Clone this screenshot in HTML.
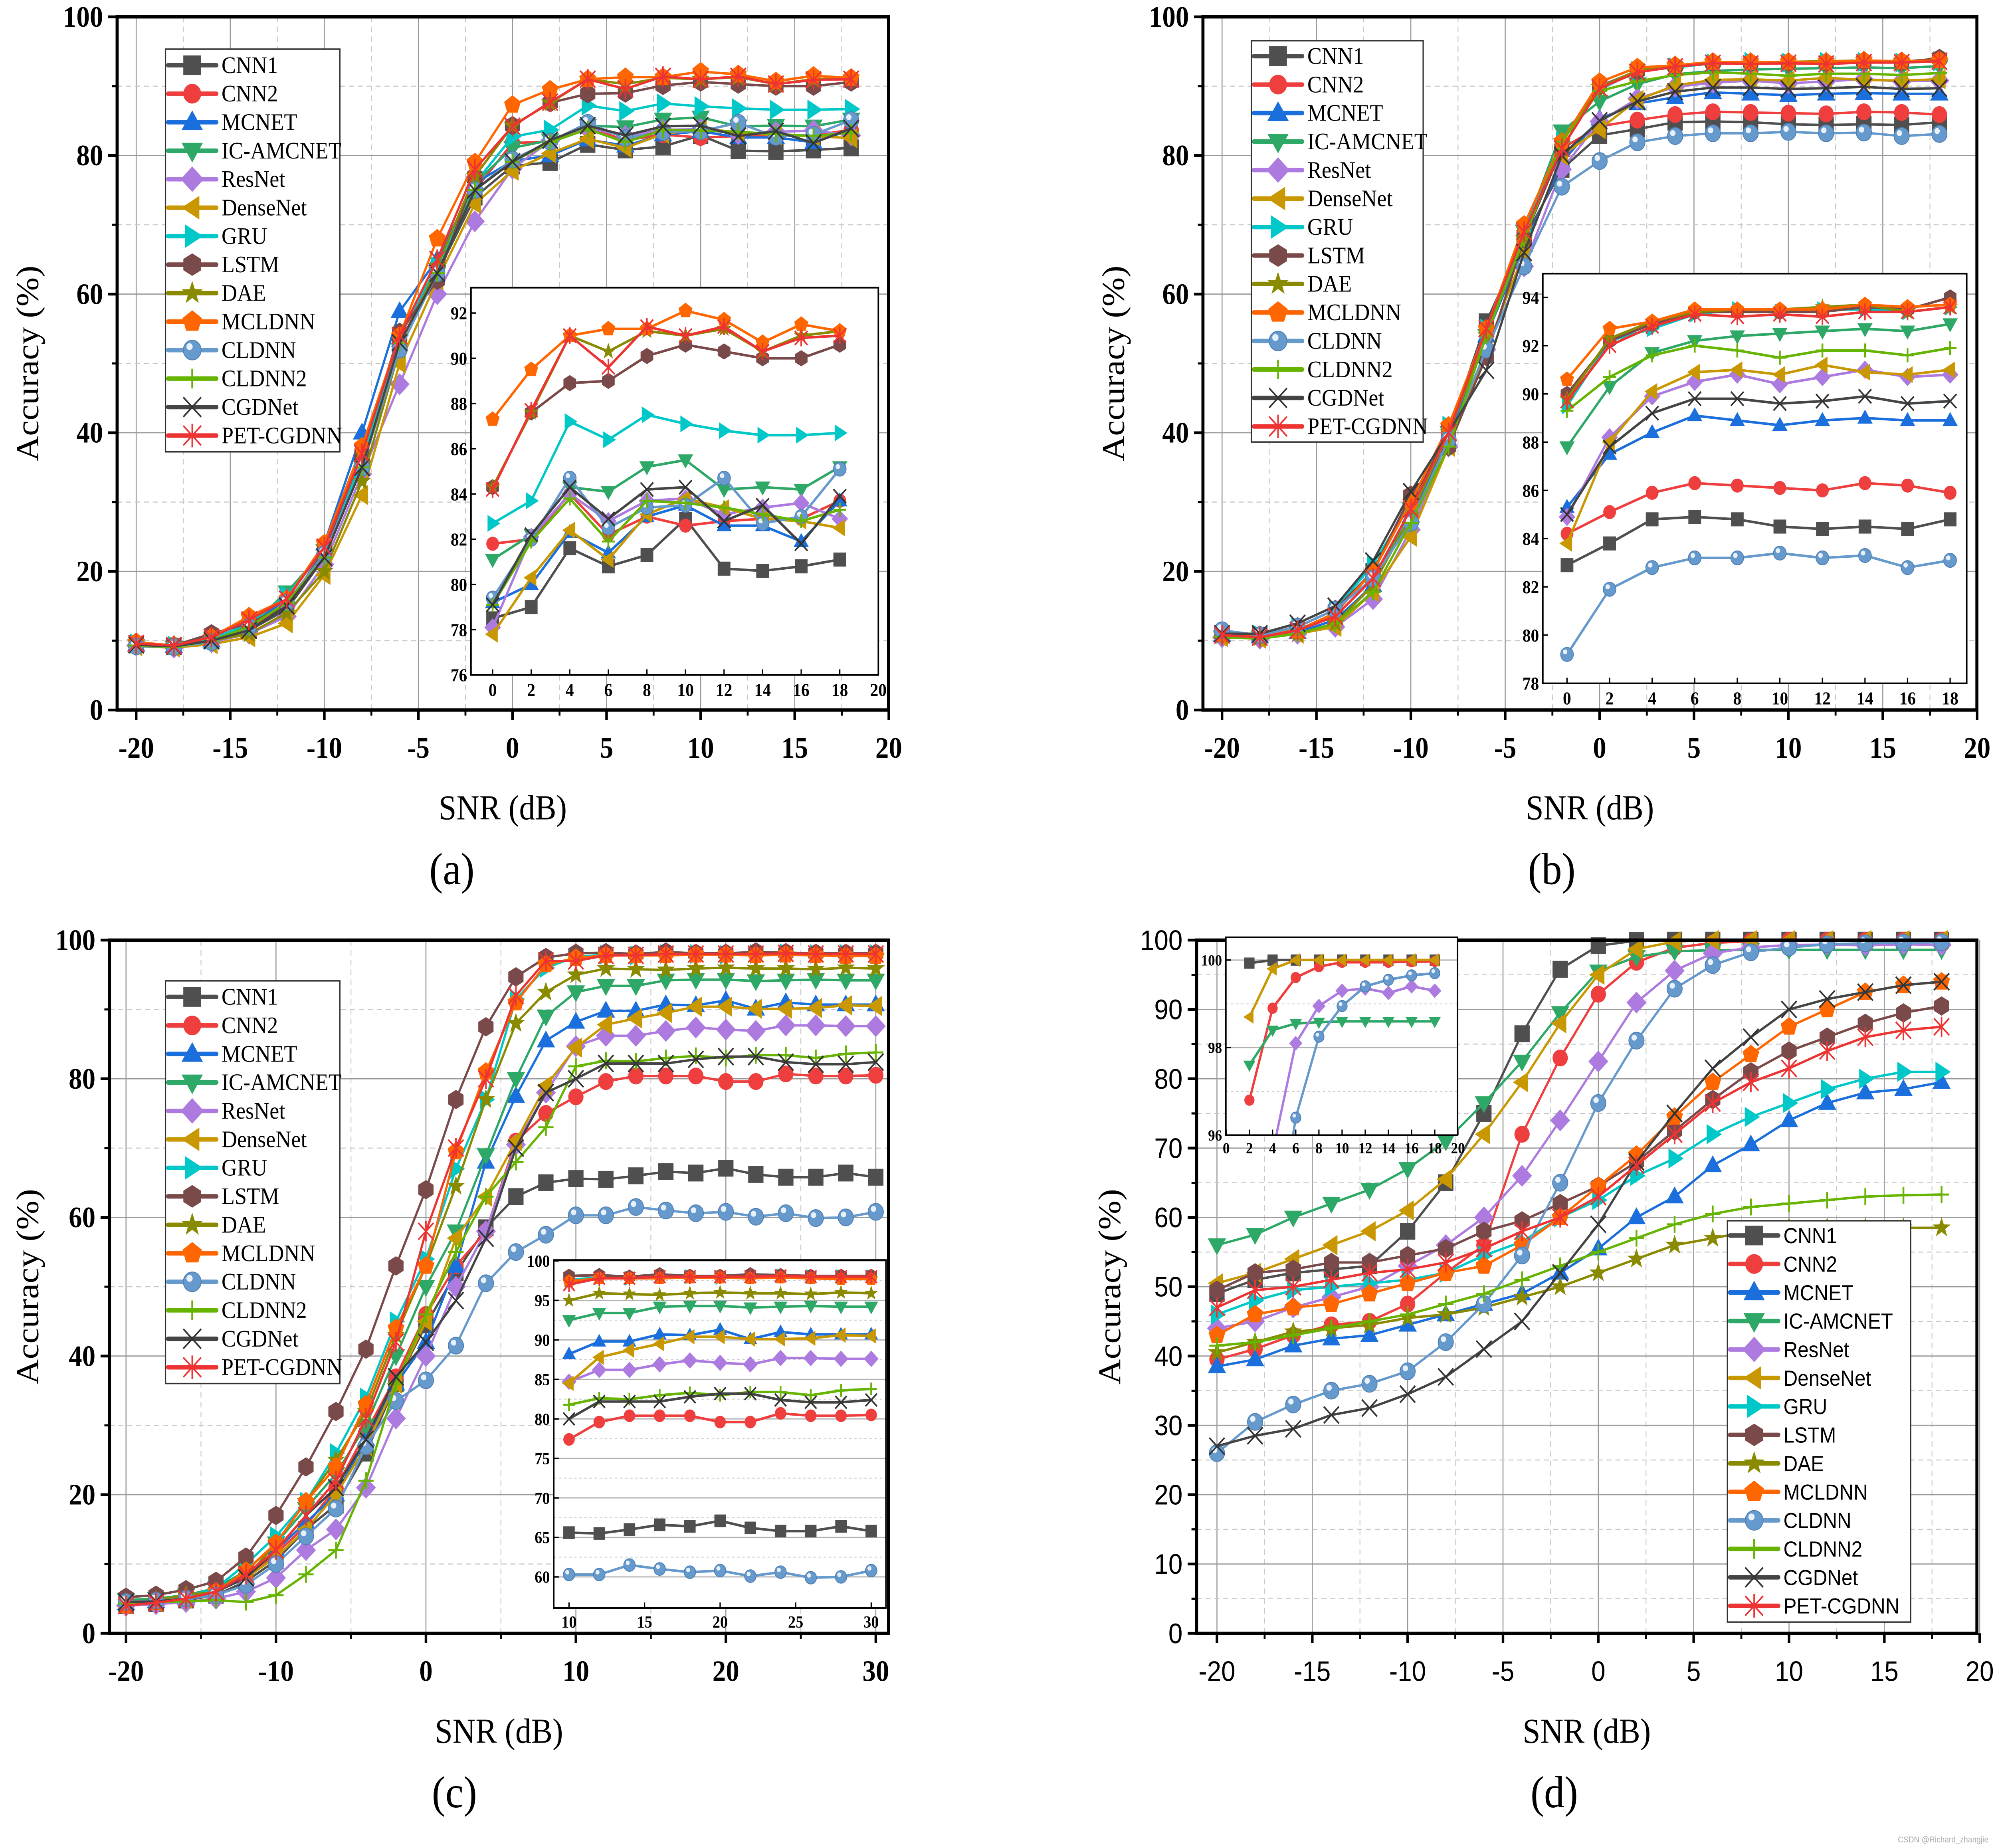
<!DOCTYPE html>
<html><head><meta charset="utf-8"><style>
html,body{margin:0;padding:0;background:#fff;width:100%;height:100%;overflow:hidden;}
svg{display:block;width:100vw;height:100vh;}
</style></head><body>
<svg id="fig" xmlns="http://www.w3.org/2000/svg" viewBox="0 0 1568 1317" preserveAspectRatio="none"></svg>
<script>
const seriesNames=['CNN1','CNN2','MCNET','IC-AMCNET','ResNet','DenseNet','GRU','LSTM','DAE','MCLDNN','CLDNN','CLDNN2','CGDNet','PET-CGDNN'];
const snrAB=[-20,-18,-16,-14,-12,-10,-8,-6,-4,-2,0,2,4,6,8,10,12,14,16,18];
const snrC=[-20,-18,-16,-14,-12,-10,-8,-6,-4,-2,0,2,4,6,8,10,12,14,16,18,20,22,24,26,28,30];
const snrD=[-20,-18,-16,-14,-12,-10,-8,-6,-4,-2,0,2,4,6,8,10,12,14,16,18];
const accA=[
[9.5,9.2,10.2,11.5,14.5,22,35,53,63,74,78.5,79.0,81.6,80.8,81.3,82.9,80.7,80.6,80.8,81.1],
[9.4,9.1,10.3,12,15,22.5,36,54,63,75,81.8,82.0,84.0,82.2,83.0,82.6,82.8,82.9,82.9,83.7],
[9.4,9.2,10,12.2,16,24,40,57.5,65,76,79.2,80.0,82.3,81.4,83.0,83.5,82.6,82.6,81.9,83.7],
[9.3,9.0,9.6,12,17,23,35,52,63,76,81.1,82.2,84.3,84.1,85.2,85.5,84.2,84.3,84.2,85.2],
[9.3,9.0,9.8,11,13.5,21,34,47,60,70.5,78.1,82.1,84.0,82.8,83.7,83.8,83.1,83.4,83.6,82.9],
[9.2,9.0,9.5,10.5,12.5,19.5,31,50,62,73,77.8,80.3,82.4,81.1,83.1,83.8,83.4,82.9,82.8,82.5],
[9.6,9.3,10.2,12.5,16.5,23,36,54,64,76,82.7,83.7,87.2,86.4,87.5,87.1,86.8,86.6,86.6,86.7],
[9.6,9.3,11,12.5,15,23,37,54.5,62,77,84.3,87.6,88.9,89.0,90.1,90.6,90.3,90.0,90.0,90.6],
[9.5,9.2,10,11,14,20,33,52,64,77,84.3,87.6,91.0,90.3,91.2,91.0,91.3,90.3,91.0,91.2],
[9.8,9.3,10.5,13.5,16,24,38,54,68,79,87.3,89.5,91.0,91.3,91.3,92.1,91.7,90.7,91.5,91.2],
[9.2,9.1,9.8,12,15.5,22.5,35,52,63,75,79.4,82.0,84.7,82.5,83.4,83.5,84.7,82.7,83.0,85.1],
[9.3,9.1,10,12,15.5,22,35,53,63,75,79.1,81.9,83.8,81.9,83.7,83.6,83.4,83.1,82.8,83.3],
[9.4,9.2,10,11.5,15,22,35,53,63,75,79.1,82.2,84.3,82.9,84.2,84.3,82.8,83.5,81.8,83.9],
[9.6,9.3,10.5,13,16,23.5,37,54,65,78,84.2,87.7,91.0,89.6,91.4,91.0,91.4,90.3,90.9,91.0]];
const accB=[
[11,10.8,11.5,14,20,30,40,56,68,78,82.9,83.8,84.8,84.9,84.8,84.5,84.4,84.5,84.4,84.8],
[11,10.7,11.5,13.5,19,29,40,55,69,81,84.2,85.1,85.9,86.3,86.2,86.1,86.0,86.3,86.2,85.9],
[10.8,10.6,11.2,13,18,28,39,54,67,79,85.3,87.5,88.4,89.1,88.9,88.7,88.9,89.0,88.9,88.9],
[10.5,10.5,11,12.5,18,29,40,54,69,83.5,87.8,90.3,91.7,92.2,92.4,92.5,92.6,92.7,92.6,92.9],
[10.5,10.3,11,12,16,26,38,52,64,78,84.9,88.2,89.9,90.5,90.8,90.4,90.7,91.0,90.7,90.8],
[10.5,10.3,11,12,17,25,38,52,66,80,83.8,88.0,90.1,90.9,91.0,90.8,91.2,90.9,90.8,91.0],
[11,10.8,12,14.5,21,30,41,55,69,82,89.5,92.2,92.7,93.3,93.5,93.4,93.5,93.5,93.4,93.6],
[11,10.8,12,14.5,20,31,38,51,68,81,90.0,92.2,92.9,93.4,93.4,93.4,93.4,93.6,93.5,94.0],
[10.8,10.5,11,12.5,18,28,40,54,68,82,89.8,92.3,93.0,93.4,93.5,93.5,93.6,93.7,93.4,93.6],
[11,10.8,11.5,14,20,30,41,55,70,82,90.6,92.7,93.0,93.5,93.5,93.5,93.5,93.7,93.6,93.7],
[11.5,10.8,12,14.5,19,27,39,52,64,75.5,79.2,81.9,82.8,83.2,83.2,83.4,83.2,83.3,82.8,83.1],
[10.5,10.3,11,12.5,17,27,38,54,68,82,89.3,90.7,91.6,92.0,91.8,91.5,91.8,91.8,91.6,91.9],
[11,11,12.5,15,21.5,31.5,40,49,66,80,85.0,87.8,89.2,89.8,89.8,89.6,89.7,89.9,89.6,89.7],
[10.8,10.5,11.5,13.5,19,29,40,55,69,81,89.7,92.0,92.8,93.3,93.2,93.3,93.2,93.4,93.4,93.6]];
const accC=[
[4,4.3,4.8,5.5,7.5,10.5,15,18.5,26,36,44.5,52,58.5,63,65,65.6,65.5,66.0,66.6,66.4,67.1,66.2,65.8,65.8,66.4,65.8],
[4.5,4.8,5.2,6,8,11.5,15.5,21,29,37,46,53,58,71,75,77.4,79.6,80.4,80.4,80.4,79.6,79.6,80.7,80.4,80.4,80.5],
[4.3,4.6,5,6,8,12,16,20,28,36,42,53,68,77.5,85.5,88.2,89.8,89.8,90.7,90.6,91.3,90.1,91.0,90.7,90.7,90.7],
[4.8,5,5.5,6.5,9,13,18,23,30,40,50,58,69,80,89,92.5,93.4,93.4,94.2,94.3,94.3,94.1,94.2,94.3,94.2,94.2],
[4,4.2,4.5,5,6,8,12,15,21,31,40,50,58,70.5,78,84.7,86.2,86.2,86.9,87.4,87.1,86.9,87.7,87.7,87.6,87.6],
[4.2,4.5,5,6,8,11,15,20,27,36,45,57,63,71,79,84.5,87.8,88.7,89.5,90.4,90.4,90.1,90.1,90.2,90.6,90.5],
[4.5,4.8,5.2,6.5,10,14,19,26,34,45,54,67,77,91.5,96,97.6,97.9,97.8,98.0,98.0,97.9,98.0,98.1,98.0,98.0,98.0],
[5.2,5.5,6.3,7.5,11,17,24,32,41,53,64,77,87.5,94.7,97.5,98.1,98.2,98.0,98.3,98.1,98.1,98.3,98.2,98.1,98.1,98.1],
[4.5,4.8,5.5,6,8,13,19,25,32,43,53,64.5,77,88,92.5,95.0,95.9,95.8,95.7,95.9,96.0,95.9,95.9,95.8,96.0,95.9],
[4,4.5,5,6,9,13,19,24,33,44,53,69.5,81,91,96.5,97.4,97.8,97.8,97.8,97.9,97.9,97.8,97.9,97.8,97.7,97.7],
[4.5,4.7,5,5.5,7,10,14,18,27,33.5,36.5,41.5,50.5,55,57.5,60.3,60.3,61.5,61.0,60.6,60.8,60.1,60.6,59.9,60.0,60.8],
[4.3,4.5,4.6,4.8,4.5,5.5,8.5,12,22,36,46,55,63,68,73,81.8,82.6,82.5,83.0,83.3,83.0,83.4,83.4,83.0,83.6,83.8],
[4.5,4.6,5,6,8,12,17,21,28,37,42,48,57,70,78,80.0,82.2,82.2,82.2,82.8,83.2,83.2,82.4,82.1,82.1,82.4],
[4,4.4,5,6,8.5,12,17,22,31,42,58,70,80,92,97,97.0,97.8,97.8,98.0,98.0,98.0,98.0,98.1,98.0,98.0,98.0]];
const accD=[
[49,51,52,52.5,53,58,65,75,86.5,95.8,99.2,99.93,100,100,100,100,100,100,100,100],
[39.5,41,43,44.5,45,47.5,52,56,72,83,92.2,96.8,98.9,99.6,99.85,99.95,99.95,99.95,99.96,99.97],
[38.5,39.5,41.5,42.5,43,44.5,46,47.5,49,52,55.5,60,63,67.5,70.5,74,76.5,78,78.5,79.5],
[56,57.5,60,62,64,67,71,76.5,82.5,89.5,95.5,97.6,98.4,98.55,98.58,98.6,98.6,98.6,98.6,98.6],
[44,45,47,48.5,50,53,56,60,66,74,82.5,91,95.6,98.1,98.95,99.3,99.35,99.25,99.4,99.3],
[50.5,52,54,56,58,61,65.5,72,79.5,88,95,98.7,99.8,100,100,100,100,100,100,100],
[46,48,49.5,50,50.5,51,52,54.5,56.5,60,62.5,66,68.5,72,74.5,76.5,78.5,80,81,81],
[49.5,52,52.5,53.5,53.5,54.5,55.5,58,59.5,62,64.5,68,72.5,77,81,84,86,88,89.5,90.5],
[40.5,42,43.5,44,44.5,45.5,46,47,48.5,50,52,54,56,57,58,58.5,58.5,58.5,58.5,58.5],
[43,46,47,47.5,49,50.5,52,53,56,60,64.5,69,74.5,79.5,83.5,87.5,90,92.5,93.5,94],
[26,30.5,33,35,36,37.8,42,47.5,54.5,65,76.5,85.5,93,96.4,98.25,98.95,99.4,99.55,99.65,99.7],
[41.5,42,43,44,45,46,47.5,49,51,53,55,57,59,60.5,61.5,62,62.5,63,63.2,63.3],
[27,28.5,29.5,31.5,32.5,34.5,37,41,45,52,59,68,75,81.5,86,90,91.5,92.5,93.5,94],
[47,49.5,50,51,52,52.5,53.5,55.5,58,60,63,67.5,72,76.5,79.5,81.5,84,86,87,87.5]];
const xTicksAB=[-20,-15,-10,-5,0,5,10,15,20];
const xTicksC=[-20,-10,0,10,20,30];
const yTicksMain=[0,20,40,60,80,100];
const yTicksD=[0,10,20,30,40,50,60,70,80,90,100];
const insetXTicksA=[0,2,4,6,8,10,12,14,16,18,20];
const insetYTicksA=[76,78,80,82,84,86,88,90,92];
const insetXTicksB=[0,2,4,6,8,10,12,14,16,18];
const insetYTicksB=[78,80,82,84,86,88,90,92,94];
const insetXTicksC=[10,15,20,25,30];
const insetYTicksC=[60,65,70,75,80,85,90,95,100];
const insetXTicksD=[0,2,4,6,8,10,12,14,16,18,20];
const insetYTicksD=[96,98,100];
const insetSeriesD=[0,1,3,4,5,10];

const COL=['#4f4f4f','#ef3e3e','#1a6fdc','#2ea866','#ad7ae0','#c99700','#00c8c8','#7a4a4a','#8a8a00','#ff6600','#6699cc','#66b400','#444444','#ee3333'];
const SHP=['sq','ci','tu','td','di','tl','tr','hx','st','pe','cl','pl','xx','as'];
const NS='http://www.w3.org/2000/svg';
const svg=document.getElementById('fig');
const SERIF='"Liberation Serif", serif', SANS='"Liberation Sans", sans-serif';
function mk(tag,attrs,parent){const e=document.createElementNS(NS,tag);for(const k in attrs)e.setAttribute(k,attrs[k]);(parent||svg).appendChild(e);return e;}
function txt(s,attrs,parent){const e=mk('text',attrs,parent);e.textContent=s;return e;}
function pts(a){return a.map(p=>p[0].toFixed(2)+','+p[1].toFixed(2)).join(' ');}
function marker(g,sh,x,y,r,c){
  let e;
  if(sh==='sq'){e=mk('rect',{x:x-r,y:y-r,width:2*r,height:2*r,fill:c},g);}
  else if(sh==='ci'){e=mk('circle',{cx:x,cy:y,r:r,fill:c},g);}
  else if(sh==='cl'){e=mk('circle',{cx:x,cy:y,r:r,fill:c,stroke:'#4f7fb5','stroke-width':0.6},g);mk('circle',{cx:x-r*0.3,cy:y-r*0.35,r:r*0.35,fill:'#e8f0fa'},g);}
  else if(sh==='tu'){e=mk('polygon',{points:pts([[x,y-r*1.2],[x-r*1.2,y+r*0.8],[x+r*1.2,y+r*0.8]]),fill:c},g);}
  else if(sh==='td'){e=mk('polygon',{points:pts([[x,y+r*1.2],[x-r*1.2,y-r*0.8],[x+r*1.2,y-r*0.8]]),fill:c},g);}
  else if(sh==='tl'){e=mk('polygon',{points:pts([[x-r*1.2,y],[x+r*0.8,y-r*1.2],[x+r*0.8,y+r*1.2]]),fill:c},g);}
  else if(sh==='tr'){e=mk('polygon',{points:pts([[x+r*1.2,y],[x-r*0.8,y-r*1.2],[x-r*0.8,y+r*1.2]]),fill:c},g);}
  else if(sh==='di'){e=mk('polygon',{points:pts([[x,y-r*1.3],[x+r*1.3,y],[x,y+r*1.3],[x-r*1.3,y]]),fill:c},g);}
  else if(sh==='hx'){const a=[];for(let i=0;i<6;i++){const t=Math.PI/6+i*Math.PI/3;a.push([x+r*1.15*Math.cos(t),y+r*1.15*Math.sin(t)]);}e=mk('polygon',{points:pts(a),fill:c},g);}
  else if(sh==='pe'){const a=[];for(let i=0;i<5;i++){const t=-Math.PI/2+i*2*Math.PI/5;a.push([x+r*1.15*Math.cos(t),y+r*1.15*Math.sin(t)]);}e=mk('polygon',{points:pts(a),fill:c},g);}
  else if(sh==='st'){const a=[];for(let i=0;i<10;i++){const t=-Math.PI/2+i*Math.PI/5;const rr=i%2?r*0.5:r*1.25;a.push([x+rr*Math.cos(t),y+rr*Math.sin(t)]);}e=mk('polygon',{points:pts(a),fill:c},g);}
  else if(sh==='pl'){e=mk('path',{d:`M${x-r},${y}H${x+r}M${x},${y-r}V${y+r}`,stroke:c,'stroke-width':1.4,fill:'none'},g);}
  else if(sh==='xx'){e=mk('path',{d:`M${x-r},${y-r}L${x+r},${y+r}M${x-r},${y+r}L${x+r},${y-r}`,stroke:'#333','stroke-width':1.2,fill:'none'},g);}
  else {e=mk('path',{d:`M${x-r},${y-r}L${x+r},${y+r}M${x-r},${y+r}L${x+r},${y-r}M${x},${y-r*1.2}V${y+r*1.2}`,stroke:c,'stroke-width':1.2,fill:'none'},g);}
  return e;
}
let clipId=0;
function drawPanel(P){
  const g=mk('g',{});
  
  
  const [L,T,R,B]=P.frame;
  const xs=v=>P.x0px+(v-P.x0)*P.ppu;
  const ys=v=>B-(v-P.ymin)/(P.ymax-P.ymin)*(B-T);
  const font=P.sans?SANS:SERIF;
  const grid=mk('g',{},g);
  
  
  P.xt.forEach((v,i)=>{mk('line',{x1:xs(v),x2:xs(v),y1:T,y2:B,stroke:'#9a9a9a','stroke-width':0.8},grid);
    if(i<P.xt.length-1){const m=(v+P.xt[i+1])/2;mk('line',{x1:xs(m),x2:xs(m),y1:T,y2:B,stroke:'#c8c8c8','stroke-width':0.7,'stroke-dasharray':'4,3'},grid);}});
  P.yt.forEach((v,i)=>{mk('line',{x1:L,x2:R,y1:ys(v),y2:ys(v),stroke:'#9a9a9a','stroke-width':0.8},grid);
    if(i<P.yt.length-1){const m=(v+P.yt[i+1])/2;mk('line',{x1:L,x2:R,y1:ys(m),y2:ys(m),stroke:'#c8c8c8','stroke-width':0.7,'stroke-dasharray':'4,3'},grid);}});
  const cid='clip'+(clipId++);
  const cp=mk('clipPath',{id:cid},g);mk('rect',{x:L,y:T-8,width:R-L,height:B-T+8},cp);
  const sg=mk('g',{'clip-path':`url(#${cid})`},g);
  P.data.forEach((arr,si)=>{
    const s=mk('g',{},sg);
    
    
    const p=arr.map((v,i)=>[xs(P.snr[i]),ys(v)]);
    mk('polyline',{points:pts(p),fill:'none',stroke:COL[si],'stroke-width':1.7,'stroke-linejoin':'round'},s);
    p.forEach(q=>{const m=marker(s,SHP[si],q[0],q[1],6,COL[si]);
      
      });
  });
  const fr=mk('rect',{x:L,y:T,width:R-L,height:B-T,fill:'none',stroke:'#000','stroke-width':2.4},g);
  
  
  const xa=mk('g',{},g);
  
  
  P.xt.forEach((v,i)=>{mk('line',{x1:xs(v),x2:xs(v),y1:B,y2:B+7,stroke:'#000','stroke-width':2},xa);
    if(i<P.xt.length-1){const m=(v+P.xt[i+1])/2;mk('line',{x1:xs(m),x2:xs(m),y1:B,y2:B+4,stroke:'#000','stroke-width':1.5},xa);}
    const t=txt(String(v),{x:xs(v),y:B+34,'text-anchor':'middle','font-family':font,'font-size':P.sans?20:21,'font-weight':P.sans?'normal':'bold'},xa);
    
    });
  const ya=mk('g',{},g);
  
  
  P.yt.forEach((v,i)=>{mk('line',{x1:L-7,x2:L,y1:ys(v),y2:ys(v),stroke:'#000','stroke-width':2},ya);
    if(i<P.yt.length-1){const m=(v+P.yt[i+1])/2;mk('line',{x1:L-4,x2:L,y1:ys(m),y2:ys(m),stroke:'#000','stroke-width':1.5},ya);}
    const t=txt(String(v),{x:L-11,y:ys(v)+7,'text-anchor':'end','font-family':font,'font-size':P.sans?20:21,'font-weight':P.sans?'normal':'bold'},ya);
    
    });
  const yt=txt('Accuracy (%)',{x:0,y:0,transform:`translate(${P.ytx},${(T+B)/2}) rotate(-90)`,'text-anchor':'middle','font-family':SERIF,'font-size':25},g);
  
  
  const xt=txt('SNR (dB)',{x:(L+R)/2,y:B+78,'text-anchor':'middle','font-family':SERIF,'font-size':25},g);
  
  
  const cap=txt('('+P.id+')',{x:P.capx,y:B+124,'text-anchor':'middle','font-family':SERIF,'font-size':32},g);
  
  
  const I=P.inset;
  const ig=mk('g',{},g);
  
  
  const [iL,iT,iR,iB]=I.box;
  const ixs=v=>I.x0px+(v-I.x0)*I.ppu;
  const iys=v=>I.y0px-(v-I.y0)*I.pyu;
  mk('rect',{x:iL,y:iT,width:iR-iL,height:iB-iT,fill:'#fff'},ig);
  if(I.grid){I.yt.forEach(v=>{mk('line',{x1:iL,x2:iR,y1:iys(v),y2:iys(v),stroke:'#b0b0b0','stroke-width':0.8},ig);});
    I.yt.forEach((v,i)=>{if(i<I.yt.length-1){const m=(v+I.yt[i+1])/2;mk('line',{x1:iL,x2:iR,y1:iys(m),y2:iys(m),stroke:'#ccc','stroke-width':0.6,'stroke-dasharray':'2,2'},ig);}});}
  const cid2='clip'+(clipId++);
  const cp2=mk('clipPath',{id:cid2},ig);mk('rect',{x:iL,y:iT,width:iR-iL,height:iB-iT},cp2);
  const isg=mk('g',{'clip-path':`url(#${cid2})`},ig);
  I.series.forEach(si=>{
    const arr=P.data[si];
    const s=mk('g',{},isg);
    
    
    const p=[];arr.forEach((v,i)=>{if(P.snr[i]>=I.xmin)p.push([ixs(P.snr[i]),iys(v),P.snr[i]]);});
    mk('polyline',{points:pts(p),fill:'none',stroke:COL[si],'stroke-width':1.8,'stroke-linejoin':'round'},s);
    p.forEach(q=>{const m=marker(s,SHP[si],q[0],q[1],I.r,COL[si]);
      
      });
  });
  mk('rect',{x:iL,y:iT,width:iR-iL,height:iB-iT,fill:'none',stroke:'#000','stroke-width':1.2},ig);
  I.xt.forEach(v=>{mk('line',{x1:ixs(v),x2:ixs(v),y1:iB,y2:iB-4,stroke:'#000','stroke-width':1},ig);
    const t=txt(String(v),{x:ixs(v),y:iB+I.fs+2,'text-anchor':'middle','font-family':SERIF,'font-size':I.fs,'font-weight':'bold'},ig);
    
    });
  I.yt.forEach(v=>{mk('line',{x1:iL,x2:iL+4,y1:iys(v),y2:iys(v),stroke:'#000','stroke-width':1},ig);
    const t=txt(String(v),{x:iL-3,y:iys(v)+I.fs*0.35,'text-anchor':'end','font-family':SERIF,'font-size':I.fs,'font-weight':'bold'},ig);
    
    });
  const Lg=P.legend;
  const lg=mk('g',{},g);
  
  
  mk('rect',{x:Lg.x,y:Lg.y,width:Lg.w,height:Lg.h,fill:'#fff',stroke:'#333','stroke-width':1},lg);
  seriesNames.forEach((n,i)=>{
    const e=mk('g',{},lg);
    
    
    const y=Lg.y+Lg.first+i*Lg.dy;
    mk('line',{x1:Lg.x+2,x2:Lg.x+40,y1:y,y2:y,stroke:COL[i],'stroke-width':3.2,'stroke-linecap':'round'},e);
    marker(e,SHP[i],Lg.x+21,y,7,COL[i]);
    txt(n,{x:Lg.x+44,y:y+5.5,'font-family':P.sans?SANS:SERIF,'font-size':P.sans?15.5:17},e);
  });
}
drawPanel({id:'a',frame:[92,12,698,506],x0:-20,x0px:107,ppu:14.78,ymin:0,ymax:100,xt:xTicksAB,yt:yTicksMain,snr:snrAB,data:accA,ytx:30,capx:355,
  inset:{box:[370,205,690,481],x0:0,x0px:387,ppu:15.15,y0:76,y0px:481,pyu:16.12,xmin:0,xt:insetXTicksA,yt:insetYTicksA,series:[0,1,2,3,4,5,6,7,8,9,10,11,12,13],r:5,fs:13,grid:false},
  legend:{x:130,y:35,w:137,h:287,first:11.5,dy:20.3}});
drawPanel({id:'b',frame:[945,12,1553,506],x0:-20,x0px:960,ppu:14.83,ymin:0,ymax:100,xt:xTicksAB,yt:yTicksMain,snr:snrAB,data:accB,ytx:883,capx:1219,
  inset:{box:[1212,195,1545,487],x0:0,x0px:1231,ppu:16.72,y0:78,y0px:487,pyu:17.19,xmin:0,xt:insetXTicksB,yt:insetYTicksB,series:[0,1,2,3,4,5,6,7,8,9,10,11,12,13],r:5,fs:13,grid:false},
  legend:{x:983,y:29,w:135,h:286,first:11,dy:20.3}});
drawPanel({id:'c',frame:[86,670,698,1164],x0:-20,x0px:99,ppu:11.78,ymin:0,ymax:100,xt:xTicksC,yt:yTicksMain,snr:snrC,data:accC,ytx:30,capx:357,
  inset:{box:[435,898,696,1146],x0:10,x0px:447,ppu:11.87,y0:60,y0px:1123.8,pyu:5.63,xmin:10,xt:insetXTicksC,yt:insetYTicksC,series:[0,1,2,3,4,5,6,7,8,9,10,11,12,13],r:4.5,fs:12,grid:true},
  legend:{x:130,y:699,w:137,h:287,first:11.5,dy:20.3}});
drawPanel({id:'d',frame:[940,670,1553,1164],x0:-20,x0px:956,ppu:14.98,ymin:0,ymax:100,xt:xTicksAB,yt:yTicksD,snr:snrD,data:accD,ytx:880,capx:1221,sans:true,
  inset:{box:[963,668,1145,809],x0:0,x0px:963.3,ppu:9.1,y0:96,y0px:809,pyu:31.2,xmin:2,xt:insetXTicksD,yt:insetYTicksD,series:insetSeriesD,r:4,fs:11,grid:true},
  legend:{x:1357,y:870,w:144,h:286,first:10.5,dy:20.3}});
const wm=txt('CSDN @Richard_zhangjie',{x:1562,y:1313,'text-anchor':'end','font-family':SANS,'font-size':6,fill:'#aaa'});


</script>
</body></html>
